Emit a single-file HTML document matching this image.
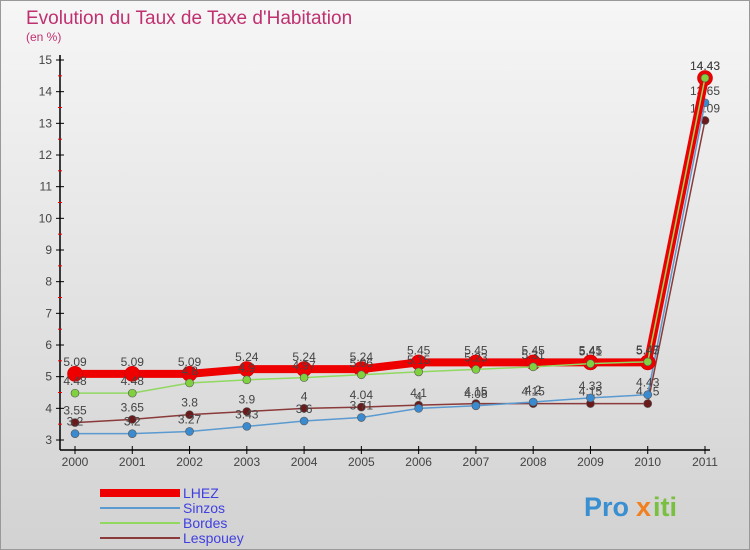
<!DOCTYPE html>
<html><head><meta charset="utf-8"><style>
body{margin:0;width:750px;height:550px;overflow:hidden;font-family:"Liberation Sans",sans-serif}
svg{display:block}
</style></head><body>
<svg id="chart" width="750" height="550" xmlns="http://www.w3.org/2000/svg">
<defs>
<linearGradient id="bg" x1="0" y1="0" x2="0" y2="1"><stop offset="0" stop-color="#f6f6f6"/><stop offset="1" stop-color="#d2d2d2"/></linearGradient>
</defs>
<rect x="0.5" y="0.5" width="749" height="549" fill="url(#bg)" stroke="#999"/>
<text x="26" y="24" font-size="19" fill="#c03070">Evolution du Taux de Taxe d'Habitation</text>
<text x="26" y="41" font-size="12" fill="#c03070">(en %)</text>
<g id="axes"></g>
<g id="series"></g>
<g id="legend"></g>
<g font-size="27" font-weight="bold">
<text x="584" y="516" fill="#3a8fd0">Pro</text><text x="636" y="516" fill="#f08020">x</text><text x="653" y="516" fill="#7ac040">iti</text>
</g>
</svg>
<script>
const years=["2000","2001","2002","2003","2004","2005","2006","2007","2008","2009","2010","2011"];
const yTicks=[3,4,5,6,7,8,9,10,11,12,13,14,15];
const lhez=[5.09,5.09,5.09,5.24,5.24,5.24,5.45,5.45,5.45,5.45,5.45,14.43];
const sinzos=[3.2,3.2,3.27,3.43,3.6,3.71,4,4.08,4.2,4.33,4.43,13.65];
const bordes=[4.48,4.48,4.8,4.9,4.97,5.06,5.15,5.23,5.31,5.41,5.47,14.43];
const lespouey=[3.55,3.65,3.8,3.9,4,4.04,4.1,4.15,4.15,4.15,4.15,13.09];
const NS="http://www.w3.org/2000/svg";
const X=i=>75+i*(630/11), Y=v=>440-(v-3)*(380/12);
function mk(tag,attrs,parent){const e=document.createElementNS(NS,tag);for(const k in attrs)e.setAttribute(k,attrs[k]);parent.appendChild(e);return e;}
const ax=document.getElementById('axes');
let l=mk('line',{x1:60,y1:55,x2:60,y2:450,stroke:'#000','stroke-width':1.5},ax);


l=mk('line',{x1:60,y1:450,x2:710,y2:450,stroke:'#000','stroke-width':1.5},ax);


yTicks.forEach((v,i)=>{
 mk('line',{x1:56,y1:Y(v),x2:64,y2:Y(v),stroke:'#000'},ax);
 if(i<yTicks.length-1) mk('line',{x1:58,y1:Y(v+0.5),x2:62,y2:Y(v+0.5),stroke:'#e00'},ax);
 const t=mk('text',{x:52,y:Y(v)+4,'font-size':12,'text-anchor':'end',fill:'#444'},ax);t.textContent=v;
 
 
});
years.forEach((y,i)=>{
 mk('line',{x1:X(i),y1:446,x2:X(i),y2:454,stroke:'#000'},ax);
 const t=mk('text',{x:X(i),y:466,'font-size':12,'text-anchor':'middle',fill:'#444'},ax);t.textContent=y;
 
 
});
const sg=document.getElementById('series');
const defs=[
 {n:'lespouey',d:lespouey,c:'#8a3a3a',w:1.5,dot:'#6a1a1a',r:4,lab:'Lespouey'},
 {n:'sinzos',d:sinzos,c:'#5a9ad0',w:1.5,dot:'#3a8ad0',r:4,lab:'Sinzos'},
 {n:'lhez',d:lhez,c:'#ee0000',w:8,dot:'#ee0000',r:7.5,lab:'LHEZ'},
 {n:'bordes',d:bordes,c:'#90d860',w:1.5,dot:'#80d040',r:4,lab:'Bordes'}];
defs.forEach(s=>{
 const g=mk('g',{},sg);
 
 
 const p=mk('polyline',{points:s.d.map((v,i)=>X(i)+','+Y(v)).join(' '),fill:'none',stroke:s.c,'stroke-width':s.w},g);
 
 
 s.d.forEach((v,i)=>{
  const c=mk('circle',{cx:X(i),cy:Y(v),r:s.r,fill:s.dot,stroke:s.n=='lhez'?'#c00':'#555','stroke-width':0.6},g);
  
  
  const t=mk('text',{x:X(i),y:Y(v)-8,'font-size':12,'text-anchor':'middle',fill:'#444'},g);t.textContent=v;
  
  
 });
});
const lg=document.getElementById('legend');
[['LHEZ','#ee0000',8],['Sinzos','#5a9ad0',2],['Bordes','#90d860',2],['Lespouey','#8a3a3a',2]].forEach((e,i)=>{
 const y=493+i*15;
 const g=mk('g',{},lg);
 
 
 mk('line',{x1:100,y1:y,x2:180,y2:y,stroke:e[1],'stroke-width':e[2]},g);
 const t=mk('text',{x:183,y:y+5,'font-size':14,fill:'#4040e0'},g);t.textContent=e[0];
});
</script>
</body></html>
